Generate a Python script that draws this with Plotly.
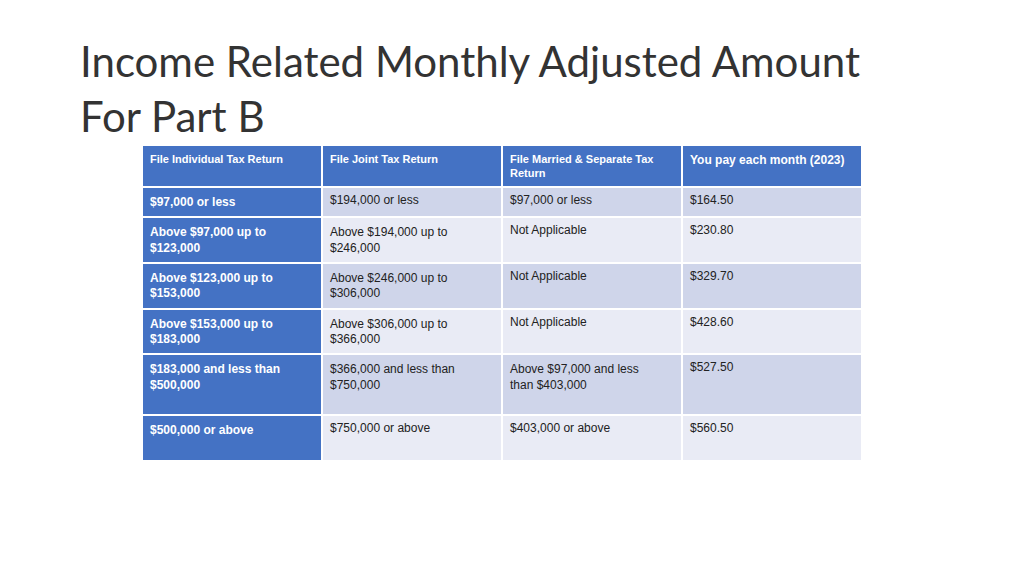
import plotly.graph_objects as go

headers = ["<b>File Individual Tax Return</b>", "<b>File Joint Tax Return</b>",
           "<b>File Married & Separate Tax<br>Return</b>", "<b>You pay each month (2023)</b>"]
individual = ["<b>$97,000 or less</b>", "<b>Above $97,000 up to<br>$123,000</b>",
              "<b>Above $123,000 up to<br>$153,000</b>", "<b>Above $153,000 up to<br>$183,000</b>",
              "<b>$183,000 and less than<br>$500,000<br> </b>", "<b>$500,000 or above<br> </b>"]
joint = ["$194,000 or less", "Above $194,000 up to<br>$246,000", "Above $246,000 up to<br>$306,000",
         "Above $306,000 up to<br>$366,000", "$366,000 and less than<br>$750,000", "$750,000 or above"]
separate = ["$97,000 or less", "Not Applicable", "Not Applicable", "Not Applicable",
            "Above $97,000 and less<br>than $403,000", "$403,000 or above"]
monthly = ["$164.50", "$230.80", "$329.70", "$428.60", "$527.50", "$560.50"]

dark, light, blue = "#CFD5EA", "#E9EBF5", "#4472C4"
body = [dark, light, dark, light, dark, light]

fig = go.Figure(go.Table(
    domain=dict(x=[134/1024, 854/1024], y=[0, 1-137/576]),
    columnwidth=[1, 1, 1, 1],
    header=dict(values=headers, fill_color=blue, line=dict(color="white", width=2),
                font=dict(color="white", size=[11, 11, 11, 12], family="Liberation Sans"),
                align="left", height=42),
    cells=dict(values=[individual, joint, separate, monthly],
               fill_color=[[blue]*6, body, body, body],
               line=dict(color="white", width=2),
               font=dict(color=[["white"]*6, ["#222"]*6, ["#222"]*6, ["#222"]*6], size=12,
                         family="Liberation Sans"),
               align="left", height=20),
))
fig.add_annotation(text="Income Related Monthly Adjusted Amount<br>For Part B", x=70/1024, y=1-26/576,
                   xref="paper", yref="paper", xanchor="left", yanchor="top", showarrow=False,
                   align="left", font=dict(size=42, color="#333", family="Lato"))
fig.update_layout(width=1024, height=576, margin=dict(l=0, r=0, t=0, b=0),
                  paper_bgcolor="white", plot_bgcolor="white")
fig.write_html("out.html")
